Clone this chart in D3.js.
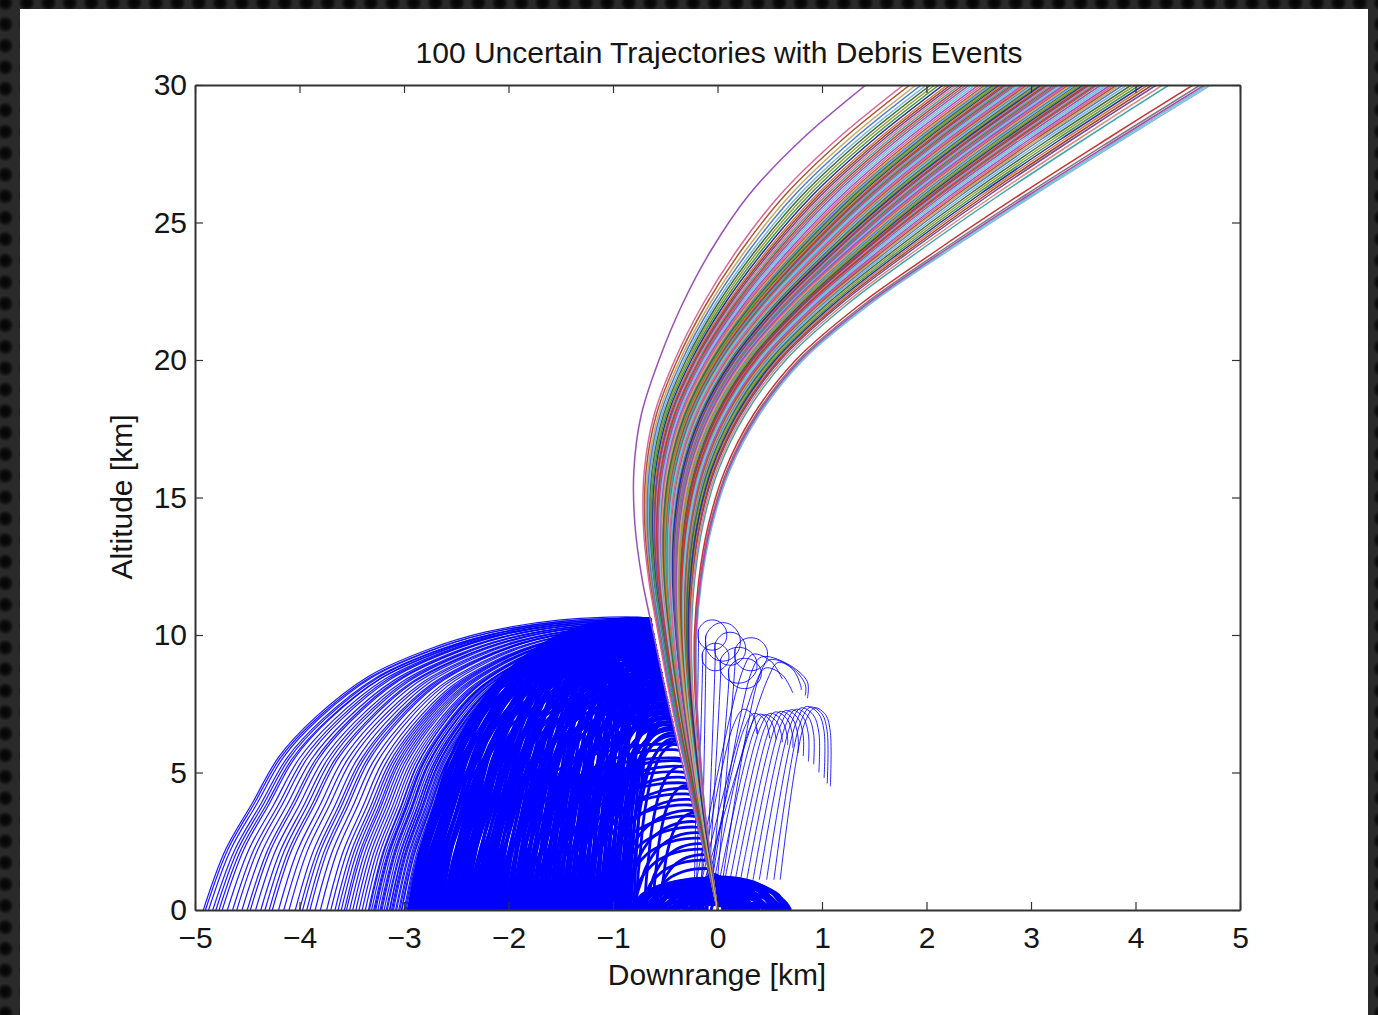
<!DOCTYPE html>
<html>
<head>
<meta charset="utf-8">
<script src="https://cdn.jsdelivr.net/npm/d3@7"></script>
<style>
  html, body { margin: 0; padding: 0; background: #222; }
  svg { display: block; }
  .tick text { font-family: "Liberation Sans", Arial, Helvetica, sans-serif; font-size: 30px; fill: #151515; }
  .lbl { font-family: "Liberation Sans", Arial, Helvetica, sans-serif; fill: #151515; font-size: 30px; }
</style>
</head>
<body>
<svg id="chart" width="1378" height="1015"></svg>
<script>
// axis ticks
const xTicks = [-5, -4, -3, -2, -1, 0, 1, 2, 3, 4, 5];
const yTicks = [0, 5, 10, 15, 20, 25, 30];

// trajectory bundle edges (km)
const trajAlt = [0, 2, 4, 6, 8, 10, 12, 14, 16, 18, 20, 22, 24, 26, 28, 30];
const trajLeftX = [0, -0.12, -0.25, -0.38, -0.5, -0.61, -0.72, -0.79, -0.8, -0.73, -0.56, -0.34, -0.06, 0.3, 0.8, 1.42];
const trajRightX = [0, -0.07, -0.13, -0.17, -0.2, -0.2, -0.15, -0.05, 0.12, 0.4, 0.82, 1.45, 2.22, 3.03, 3.87, 4.72];

// where each of the 100 trajectories crosses 30 km
const trajTopX = [1.42, 1.78, 1.84, 1.9, 1.95, 2.0, 2.04, 2.08, 2.12, 2.16, 2.2, 2.23, 2.26, 2.29, 2.32,
  2.35, 2.38, 2.41, 2.44, 2.47, 2.5, 2.53, 2.56, 2.58, 2.6, 2.62, 2.64, 2.66, 2.68, 2.7, 2.72, 2.74,
  2.76, 2.78, 2.8, 2.82, 2.84, 2.86, 2.88, 2.9, 2.92, 2.94, 2.96, 2.98, 3.0, 3.02, 3.04, 3.06, 3.08,
  3.1, 3.12, 3.14, 3.16, 3.18, 3.2, 3.22, 3.24, 3.26, 3.28, 3.3, 3.32, 3.34, 3.36, 3.38, 3.4, 3.42,
  3.44, 3.46, 3.48, 3.5, 3.52, 3.54, 3.56, 3.58, 3.6, 3.62, 3.64, 3.67, 3.7, 3.73, 3.76, 3.79, 3.82,
  3.85, 3.88, 3.92, 3.96, 4.0, 4.04, 4.08, 4.12, 4.16, 4.2, 4.26, 4.32, 4.55, 4.62, 4.66, 4.69, 4.72];

const trajColors = ["#9b4fb8", "#9c9a3c", "#3fa6a6", "#e0649a", "#3f9a4a", "#cc3434", "#a8582e", "#2c2c9c",
  "#7c7c7c", "#d2a464", "#c97c3c", "#b344b3", "#4c7cc8", "#a04038", "#5ecaca", "#7db2e2", "#6c4c9c",
  "#8ab4e8", "#3c6c3c", "#e28484"];

// debris shape read from the outermost falling arc (fraction of range, fraction of release altitude)
const tplU = [0, 0.03, 0.2, 0.37, 0.5, 0.63, 0.75, 0.83, 0.89, 0.95, 1];
const tplV = [1, 1.005, 0.995, 0.953, 0.892, 0.802, 0.66, 0.528, 0.368, 0.208, 0];

// sparse outer debris thrown far left: [release altitude, landing x]
const leftDebrisOuter = [
  [10.6, -4.92], [10.55, -4.87], [10.5, -4.8], [10.5, -4.74], [10.45, -4.69], [10.45, -4.6], [10.4, -4.55],
  [10.4, -4.47], [10.35, -4.42], [10.35, -4.33], [10.3, -4.26], [10.3, -4.2], [10.25, -4.1], [10.25, -4.04],
  [10.2, -3.97], [10.2, -3.9], [10.15, -3.8], [10.15, -3.74], [10.1, -3.66], [10.1, -3.6], [10.05, -3.52],
  [10.05, -3.46], [10.0, -3.4], [10.0, -3.34], [9.95, -3.28], [9.95, -3.22], [9.9, -3.16], [9.9, -3.11],
  [9.85, -3.05], [9.85, -3.0], [10.1, -3.57], [10.05, -3.49], [10.0, -3.43], [10.0, -3.37], [9.95, -3.31],
  [9.95, -3.25], [9.9, -3.19], [9.9, -3.135], [9.85, -3.08], [9.85, -3.025],
  [10.55, -4.9], [10.5, -4.83], [10.45, -4.77], [10.45, -4.64], [10.4, -4.5], [10.35, -4.37], [10.3, -4.29],
  [10.25, -4.15], [10.2, -4.0], [10.2, -3.93], [10.15, -3.85], [10.1, -3.7], [10.1, -3.63], [10.05, -3.55],
  [10.05, -3.33], [9.95, -3.29], [10.0, -3.27], [9.9, -3.23], [9.95, -3.21], [9.85, -3.17], [9.9, -3.14],
  [9.8, -3.12], [9.85, -3.1], [9.8, -3.07], [9.75, -3.04], [9.8, -3.02], [9.7, -2.99], [9.75, -2.98]
];

// dense debris closer in: [release altitude, landing x]
const leftDebris = [
  [10.4, -2.96], [9.8, -2.93], [10.2, -2.9], [9.6, -2.87], [10.5, -2.84], [9.9, -2.81], [10.3, -2.78],
  [9.4, -2.75], [10.1, -2.72], [9.7, -2.69], [10.5, -2.66], [9.2, -2.63], [10.0, -2.6], [9.8, -2.57],
  [10.4, -2.54], [9.0, -2.51], [10.2, -2.48], [9.6, -2.45], [10.5, -2.42], [8.8, -2.39], [10.0, -2.36],
  [9.4, -2.33], [10.3, -2.3], [8.6, -2.27], [9.9, -2.24], [9.2, -2.21], [10.5, -2.18], [8.4, -2.15],
  [9.7, -2.12], [9.0, -2.09], [10.2, -2.06], [8.2, -2.03], [9.5, -2.0], [8.8, -1.97], [10.4, -1.94],
  [8.0, -1.91], [9.3, -1.88], [8.6, -1.85], [10.0, -1.82], [7.8, -1.79], [9.1, -1.76], [8.4, -1.73],
  [10.5, -1.7], [7.6, -1.67], [8.9, -1.64], [8.2, -1.61], [9.8, -1.58], [7.4, -1.55], [8.7, -1.52],
  [8.0, -1.49], [10.3, -1.46], [7.2, -1.43], [8.5, -1.4], [7.8, -1.37], [9.6, -1.34], [7.0, -1.31],
  [8.3, -1.28], [7.6, -1.25], [10.0, -1.22], [6.8, -1.19], [8.1, -1.16], [7.4, -1.13], [9.4, -1.1],
  [6.6, -1.07], [7.9, -1.04], [7.2, -1.01], [9.0, -0.98], [6.4, -0.95], [7.7, -0.92], [7.0, -0.89],
  [8.6, -0.86], [6.2, -0.83], [7.5, -0.8],
  [10.1, -2.945], [9.5, -2.915], [10.45, -2.885], [9.7, -2.855], [10.0, -2.825], [9.3, -2.795], [10.35, -2.765],
  [9.8, -2.735], [10.2, -2.705], [9.1, -2.675], [10.5, -2.645], [9.6, -2.615], [10.0, -2.585], [8.9, -2.555],
  [10.3, -2.525], [9.4, -2.495], [10.4, -2.465], [8.7, -2.435], [9.9, -2.405], [9.2, -2.375], [10.5, -2.345],
  [8.5, -2.315], [9.7, -2.285], [9.0, -2.255], [10.2, -2.225], [8.3, -2.195], [9.5, -2.165], [8.8, -2.135],
  [10.4, -2.105], [8.1, -2.075], [9.3, -2.045], [8.6, -2.015], [10.0, -1.985], [7.9, -1.955], [9.1, -1.925],
  [8.4, -1.895], [10.5, -1.865], [7.7, -1.835], [8.9, -1.805], [8.2, -1.775], [9.8, -1.745], [7.5, -1.715],
  [8.7, -1.685], [8.0, -1.655], [10.3, -1.625], [7.3, -1.595], [8.5, -1.565], [7.8, -1.535], [9.6, -1.505],
  [7.1, -1.475], [8.3, -1.445], [7.6, -1.415], [10.0, -1.385], [6.9, -1.355], [8.1, -1.325], [7.4, -1.295],
  [9.4, -1.265], [6.7, -1.235], [7.9, -1.205], [7.2, -1.175], [9.0, -1.145], [6.5, -1.115], [7.7, -1.085],
  [7.0, -1.055], [8.6, -1.025], [6.3, -0.995], [7.5, -0.965], [6.8, -0.935], [8.2, -0.905], [6.1, -0.875],
  [7.3, -0.845],
  [10.55, -2.9], [10.45, -2.85], [10.5, -2.8], [10.4, -2.75], [10.55, -2.7], [10.45, -2.65], [10.5, -2.6],
  [10.35, -2.55], [10.55, -2.5], [10.4, -2.45], [10.5, -2.4], [10.3, -2.35], [10.55, -2.3], [10.45, -2.25],
  [10.5, -2.2], [10.35, -2.15], [10.55, -2.1], [10.4, -2.05], [10.5, -2.0], [10.3, -1.95], [10.55, -1.9],
  [10.45, -1.85], [10.5, -1.8], [10.35, -1.75], [10.55, -1.7], [10.4, -1.65], [10.5, -1.6], [10.3, -1.55],
  [10.55, -1.5], [10.45, -1.45], [10.5, -1.4], [10.35, -1.35], [10.55, -1.3], [10.4, -1.25], [10.5, -1.2],
  [10.3, -1.15], [10.55, -1.1], [10.45, -1.05], [10.5, -1.0], [10.35, -0.95], [10.55, -0.9],
  [9.5, -2.88], [8.5, -2.78], [9.2, -2.68], [8.2, -2.58], [9.4, -2.48], [8.0, -2.38], [9.0, -2.28],
  [7.8, -2.18], [9.3, -2.08], [7.6, -1.98], [8.8, -1.88], [7.4, -1.78], [9.1, -1.68], [7.2, -1.58],
  [8.6, -1.48], [7.0, -1.38], [8.9, -1.28], [6.8, -1.18], [8.4, -1.08], [6.6, -0.98], [8.0, -0.9],
  [6.0, -2.4], [5.5, -2.2], [5.8, -2.0], [5.0, -1.9], [5.4, -1.8], [4.6, -1.7], [5.2, -1.6], [4.2, -1.5],
  [4.8, -1.45], [3.8, -1.35], [4.4, -1.3], [3.4, -1.2], [4.0, -1.15], [3.0, -1.05], [3.6, -1.0], [2.6, -0.95],
  [3.2, -0.9], [2.2, -0.85], [2.8, -0.8], [1.8, -0.75], [2.4, -0.7], [1.5, -0.65], [2.0, -0.6], [4.5, -0.62],
  [3.5, -0.55], [5.2, -0.7], [6.0, -0.78]
];

// low debris piling up around the launch point: [release altitude, landing x]
const groundDebris = [
  [1.1, 0.7], [1.0, 0.68], [1.2, 0.64], [0.9, 0.62], [1.15, 0.58], [0.8, 0.56], [1.1, 0.52], [0.7, 0.5],
  [1.05, 0.46], [0.6, 0.44], [1.0, 0.4], [0.5, 0.38], [0.95, 0.34], [0.45, 0.3], [0.9, 0.27], [0.4, 0.24],
  [0.85, 0.2], [0.35, 0.17], [0.8, 0.14], [1.2, 0.1], [0.3, 0.08], [1.25, 0.05], [1.3, 0.12], [0.65, 0.6],
  [0.55, 0.52], [0.25, 0.35], [0.2, 0.5],
  [1.15, 0.66], [0.95, 0.6], [1.1, 0.55], [0.75, 0.48], [1.05, 0.43], [0.55, 0.36], [1.0, 0.32], [0.5, 0.26],
  [0.95, 0.22], [0.4, 0.15], [1.1, 0.18], [0.3, 0.12], [0.2, 0.25], [0.15, 0.4], [0.3, 0.55],
  [1.1, -0.85], [1.0, -0.8], [1.15, -0.76], [0.9, -0.72], [1.1, -0.67], [0.8, -0.63], [1.05, -0.58],
  [0.7, -0.54], [1.0, -0.5], [0.6, -0.45], [0.95, -0.41], [0.5, -0.37], [0.9, -0.32], [0.4, -0.28],
  [0.85, -0.24], [0.35, -0.2], [1.2, -0.16], [0.3, -0.12], [1.35, -0.1], [0.6, -0.7], [0.45, -0.55],
  [1.05, -0.83], [0.95, -0.78], [1.1, -0.74], [0.85, -0.69], [1.05, -0.65], [0.75, -0.6], [1.0, -0.56],
  [0.65, -0.52], [0.95, -0.47], [0.55, -0.43], [0.9, -0.39], [0.45, -0.34], [0.85, -0.3], [0.4, -0.26],
  [1.2, -0.22], [0.3, -0.18], [1.25, -0.14], [0.25, -0.06], [0.2, -0.3], [0.25, -0.5], [0.3, -0.75]
];

// arcs right of the bundle: [foot x, foot alt, apex x, apex alt, end x, end alt]
const rightArcs = [
  [0.6, 1.1, 0.93, 7.35, 1.08, 4.5],
  [0.54, 1.1, 0.89, 7.38, 1.05, 4.6],
  [0.47, 1.1, 0.85, 7.4, 1.02, 4.8],
  [0.4, 1.1, 0.8, 7.35, 0.97, 5.0],
  [0.34, 1.1, 0.75, 7.3, 0.92, 5.3],
  [0.28, 1.1, 0.7, 7.28, 0.87, 5.4],
  [0.22, 1.1, 0.65, 7.25, 0.82, 5.6],
  [0.17, 1.1, 0.6, 7.22, 0.77, 5.7],
  [0.12, 1.1, 0.55, 7.2, 0.72, 5.9],
  [0.07, 1.1, 0.5, 7.15, 0.67, 6.0],
  [0.02, 1.1, 0.45, 7.1, 0.62, 6.1],
  [-0.03, 1.1, 0.4, 7.12, 0.56, 6.2],
  [-0.08, 1.1, 0.35, 7.15, 0.5, 6.3],
  [-0.16, 1.1, 0.25, 7.3, 0.38, 6.6],
  [-0.05, 1.1, 0.42, 9.2, 0.86, 7.7],
  [0.05, 1.1, 0.5, 9.1, 0.84, 7.8],
  [-0.12, 1.1, 0.58, 9.0, 0.8, 8.0],
  [-0.15, 1.1, 0.46, 8.8, 0.72, 7.9],
  [-0.2, 1.1, 0.34, 9.3, 0.62, 8.4]
];

// small curls near 9-10 km: [foot x, centre x, centre alt, radius x, radius alt]
const loops = [
  [-0.15, 0.05, 9.75, 0.17, 0.7],
  [-0.08, 0.2, 8.9, 0.18, 0.65],
  [-0.22, -0.05, 10.0, 0.14, 0.55],
  [0.0, 0.32, 9.3, 0.16, 0.6],
  [-0.1, 0.12, 9.5, 0.15, 0.6],
  [-0.2, -0.02, 9.2, 0.13, 0.5],
  [-0.05, 0.26, 8.6, 0.16, 0.55]
];

const svg = d3.select("#chart");
const defs = svg.append("defs");

// dotted dark backdrop
const grad = defs.append("radialGradient").attr("id", "dotGrad");
grad.append("stop").attr("offset", "0%").attr("stop-color", "#030303");
grad.append("stop").attr("offset", "55%").attr("stop-color", "#0c0c0c");
grad.append("stop").attr("offset", "100%").attr("stop-color", "#2a2a2a");
const pat = defs.append("pattern").attr("id", "dots")
  .attr("width", 21.5).attr("height", 21.5).attr("patternUnits", "userSpaceOnUse")
  .attr("x", -5.5).attr("y", -8);
pat.append("rect").attr("width", 21.5).attr("height", 21.5).attr("fill", "#2a2a2a");
pat.append("circle").attr("cx", 10.75).attr("cy", 10.75).attr("r", 8.5).attr("fill", "url(#dotGrad)");

svg.append("rect").attr("width", 1378).attr("height", 1015).attr("fill", "url(#dots)");
svg.append("rect").attr("x", 20).attr("y", 9).attr("width", 1348).attr("height", 1010).attr("fill", "#ffffff");

const x = d3.scaleLinear().domain([-5, 5]).range([195, 1240]);
const y = d3.scaleLinear().domain([0, 30]).range([910, 85]);

defs.append("clipPath").attr("id", "plotClip")
  .append("rect").attr("x", 195).attr("y", 85).attr("width", 1045).attr("height", 825);

const line = d3.line()
  .x(d => x(d[0]))
  .y(d => y(d[1]))
  .curve(d3.curveCatmullRom.alpha(0.5));

const leftAt = d3.scaleLinear().domain(trajAlt).range(trajLeftX);
const rightAt = d3.scaleLinear().domain(trajAlt).range(trajRightX);

const plot = svg.append("g").attr("clip-path", "url(#plotClip)");

// debris from a release point to its landing point, following the read arc shape
function debrisPath(xr, hr, xl) {
  return tplU.map((u, k) => [xr + (xl - xr) * u, hr * tplV[k]]);
}

const debrisG = plot.append("g")
  .attr("fill", "none")
  .attr("stroke", "#0000ff");

debrisG.selectAll("path.outer")
  .data(leftDebrisOuter)
  .join("path")
  .attr("class", "outer")
  .attr("stroke-width", 1.2)
  .attr("stroke-opacity", 0.9)
  .attr("d", d => line(debrisPath(leftAt(d[0]), d[0], d[1])));

debrisG.selectAll("path.left")
  .data(leftDebris)
  .join("path")
  .attr("class", "left")
  .attr("stroke-width", 2.8)
  .attr("d", d => line(debrisPath(leftAt(d[0]), d[0], d[1])));

debrisG.selectAll("path.ground")
  .data(groundDebris)
  .join("path")
  .attr("class", "ground")
  .attr("stroke-width", 3)
  .attr("d", d => line(debrisPath((leftAt(d[0]) + rightAt(d[0])) / 2, d[0], d[1])));

debrisG.selectAll("path.arc")
  .data(rightArcs)
  .join("path")
  .attr("class", "arc")
  .attr("stroke-width", 1)
  .attr("stroke-opacity", 0.85)
  .attr("d", d => {
    const [fx, fa, ax, aa, ex, ea] = d;
    const pts = [
      [fx, fa],
      [ax - 0.1, aa - 0.6],
      [ax, aa],
      [(ax + ex) / 2 + 0.03, aa - 0.25],
      [ex, aa - 0.9],
      [ex, ea]
    ];
    return line(pts);
  });

debrisG.selectAll("path.loop")
  .data(loops)
  .join("path")
  .attr("class", "loop")
  .attr("stroke-width", 1)
  .attr("stroke-opacity", 0.85)
  .attr("d", d => {
    const [fx, cx, cy, rx, ry] = d;
    const angles = [200, 160, 120, 90, 60, 20, -20, -60, -90, -120, -160, -200];
    const pts = [[fx, 1.1]].concat(angles.map(a => {
      const r = a * Math.PI / 180;
      return [cx + rx * Math.cos(r), cy + ry * Math.sin(r)];
    }));
    return line(pts);
  });

// 100 trajectories, each placed inside the read bundle by its top crossing
const topL = trajLeftX[trajLeftX.length - 1];
const topR = trajRightX[trajRightX.length - 1];
const order = d3.range(trajTopX.length).map(j => (j * 37) % trajTopX.length);

plot.append("g")
  .attr("fill", "none")
  .attr("stroke-width", 1.5)
  .selectAll("path")
  .data(order)
  .join("path")
  .attr("stroke", i => trajColors[(i * 3) % trajColors.length])
  .attr("d", i => {
    const s = (trajTopX[i] - topL) / (topR - topL);
    return line(trajAlt.map((h, k) => [trajLeftX[k] + s * (trajRightX[k] - trajLeftX[k]), h]));
  });

// axes, MATLAB style box with inward ticks
const axisColor = "#333333";
const bottomAxis = svg.append("g")
  .attr("transform", `translate(0,${y(0)})`)
  .call(d3.axisBottom(x).tickValues(xTicks).tickSizeInner(-8).tickSizeOuter(0).tickPadding(17).tickFormat(d3.format("d")));
const topAxis = svg.append("g")
  .attr("transform", `translate(0,${y(30)})`)
  .call(d3.axisTop(x).tickValues(xTicks).tickSizeInner(-8).tickSizeOuter(0).tickFormat(""));
const leftAxis = svg.append("g")
  .attr("transform", `translate(${x(-5)},0)`)
  .call(d3.axisLeft(y).tickValues(yTicks).tickSizeInner(-8).tickSizeOuter(0).tickPadding(8).tickFormat(d3.format("d")));
const rightAxis = svg.append("g")
  .attr("transform", `translate(${x(5)},0)`)
  .call(d3.axisRight(y).tickValues(yTicks).tickSizeInner(-8).tickSizeOuter(0).tickFormat(""));

[bottomAxis, topAxis, leftAxis, rightAxis].forEach(g => {
  g.select(".domain").attr("stroke", axisColor).attr("stroke-width", 2);
  g.selectAll(".tick line").attr("stroke", axisColor).attr("stroke-width", 1.2);
  g.selectAll(".tick text").attr("font-size", null).attr("font-family", null);
});

// labels
svg.append("text")
  .attr("class", "lbl")
  .attr("x", 719).attr("y", 63)
  .attr("text-anchor", "middle")
  .text("100 Uncertain Trajectories with Debris Events");

svg.append("text")
  .attr("class", "lbl")
  .attr("x", 717).attr("y", 985)
  .attr("text-anchor", "middle")
  .text("Downrange [km]");

svg.append("text")
  .attr("class", "lbl")
  .attr("transform", "translate(132,497) rotate(-90)")
  .attr("text-anchor", "middle")
  .text("Altitude [km]");
</script>
</body>
</html>
